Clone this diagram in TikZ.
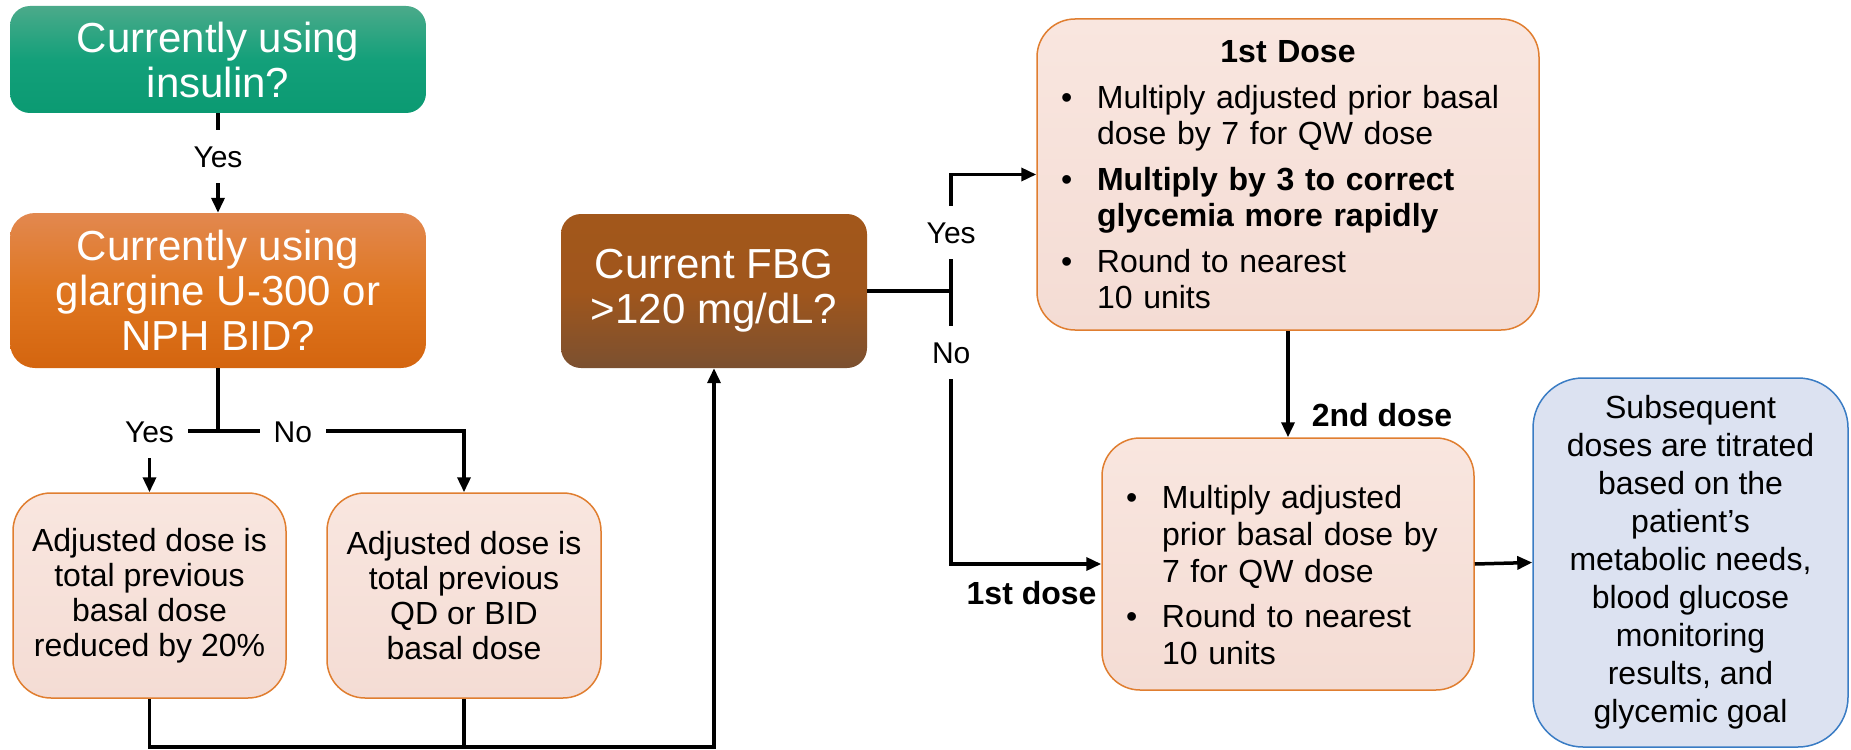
\documentclass[tikz,border=0pt]{standalone}
\usepackage{fontspec}
\setmainfont{Liberation Sans}
\usepackage{xcolor}
\usepackage{tikz}
\usetikzlibrary{arrows.meta,calc}
\definecolor{insulintop}{HTML}{4BAA8A}
\definecolor{insulinmid}{HTML}{13A07A}
\definecolor{insulinbottom}{HTML}{0B9A72}
\definecolor{glarginetop}{HTML}{E2884F}
\definecolor{glarginemid}{HTML}{DF7620}
\definecolor{glarginebottom}{HTML}{D4650F}
\definecolor{fbgtop}{HTML}{A2571B}
\definecolor{fbgmid}{HTML}{A0561C}
\definecolor{fbgbottom}{HTML}{7B5030}
\definecolor{dosetop}{HTML}{F9E6DF}
\definecolor{dosebottom}{HTML}{F4DCD4}
\definecolor{doseline}{HTML}{E07E30}
\definecolor{titrationfill}{HTML}{DCE2F1}
\definecolor{titrationline}{HTML}{3A7CC4}
\newcommand{\dosepoint}[1]{\par\noindent\hangindent=36pt\hangafter=1\makebox[36pt][l]{\textbullet}#1\par}

\begin{document}
\begin{tikzpicture}[x=1pt,y=-1pt,
  nodebox/.style={rounded corners=20pt,align=center,inner sep=0pt},
  questionnode/.style={nodebox,text=white,font=\fontsize{42}{45}\selectfont},
  insulinnode/.style={questionnode,top color=insulintop,bottom color=insulinbottom,middle color=insulinmid},
  glarginenode/.style={questionnode,rounded corners=25pt,top color=glarginetop,bottom color=glarginebottom,middle color=glarginemid},
  fbgnode/.style={questionnode,top color=fbgtop,bottom color=fbgbottom,middle color=fbgmid},
  dosenode/.style={nodebox,rounded corners=38pt,draw=doseline,line width=1.5pt,top color=dosetop,bottom color=dosebottom,font=\fontsize{32}{35}\selectfont},
  bulletnode/.style={dosenode,align=left,inner xsep=24pt,font=\fontsize{32}{36}\selectfont\setlength{\parskip}{10pt}},
  titrationnode/.style={nodebox,rounded corners=50pt,draw=titrationline,line width=1.5pt,fill=titrationfill,font=\fontsize{32}{38}\selectfont},
  trunk/.style={draw=black,line width=3.5pt},
  connector/.style={trunk,-{Triangle[length=15pt,width=13pt]}},
  branchlabel/.style={fill=white,font=\fontsize{30}{32}\selectfont,inner xsep=14pt,inner ysep=15.5pt,text height=22pt,text depth=0pt},
  doselabel/.style={font=\bfseries\fontsize{32}{36}\selectfont,inner sep=0pt}
]
\path[use as bounding box] (0,0) rectangle (1851,749);

% Left column: insulin history
\node[insulinnode,minimum width=416pt,minimum height=107pt] (insulin) at (218,59.5) {Currently using\\insulin?};
\node[glarginenode,minimum width=416pt,minimum height=155pt] (glargine) at (218,290.5) {Currently using\\glargine U-300 or\\NPH BID?};
\node[dosenode,minimum width=273pt,minimum height=205pt] (reduce) at (149.5,595.5) {Adjusted dose is\\total previous\\basal dose\\reduced by 20\%};
\node[dosenode,minimum width=274pt,minimum height=205pt] (keep) at (464,595.5) {Adjusted dose is\\total previous\\QD or BID\\basal dose};

% Glycemia check and weekly dosing
\node[fbgnode,minimum width=306pt,minimum height=154pt] (fbg) at (714,291) {Current FBG\\>120 mg/dL?};
\node[bulletnode,text width=454pt,minimum width=502pt,minimum height=311pt] (firstdose) at (1288,174.5) {{\centering\textbf{1st Dose}\par}
  \dosepoint{Multiply adjusted prior basal\newline dose by 7 for QW dose}
  \dosepoint{\textbf{Multiply by 3 to correct\newline glycemia more rapidly}}
  \dosepoint{Round to nearest\newline 10 units}};
\node[bulletnode,text width=324pt,minimum width=372pt,minimum height=252pt,font=\fontsize{32}{37}\selectfont\setlength{\parskip}{8pt}] (seconddose) at (1288,564) {\dosepoint{Multiply adjusted\newline prior basal dose by\newline 7 for QW dose}
  \dosepoint{Round to nearest\newline 10 units}};
\node[titrationnode,minimum width=315pt,minimum height=369pt] (subsequent) at (1690.5,562.5) {Subsequent\\doses are titrated\\based on the\\patient’s\\metabolic needs,\\blood glucose\\monitoring\\results, and\\glycemic goal};

% Insulin branches
\draw[connector] (insulin.south) -- node[branchlabel,pos=0.43] {Yes} (glargine.north);
\draw[trunk] (glargine.south) -- ++(0,63) coordinate (gsplit);
\draw[connector] (gsplit) -| node[branchlabel,pos=0.5] {Yes} (reduce.north);
\draw[connector] (gsplit) -| node[branchlabel,pos=0.152] {No} (keep.north);

% Both adjusted doses lead to the FBG check
\draw[connector] (reduce.south) -- ++(0,48) -| (fbg.south);
\draw[trunk] (keep.south) -- ++(0,48);

% FBG branches
\draw[trunk] (fbg.east) -- ++(84,0) coordinate (fsplit);
\draw[connector] (fsplit) |- node[branchlabel,pos=0.25] {Yes} (firstdose.west);
\draw[connector] (fsplit) |- node[branchlabel,pos=0.112] {No}
  node[doselabel,pos=1,anchor=north east,xshift=-3pt,yshift=-16pt] {1st dose} (seconddose.west);
\draw[connector] (firstdose.south) -- node[doselabel,pos=0.79,anchor=west,xshift=22pt] {2nd dose} (seconddose.north);
\draw[connector] (seconddose.east) -- (subsequent.west);

\end{tikzpicture}
\end{document}
